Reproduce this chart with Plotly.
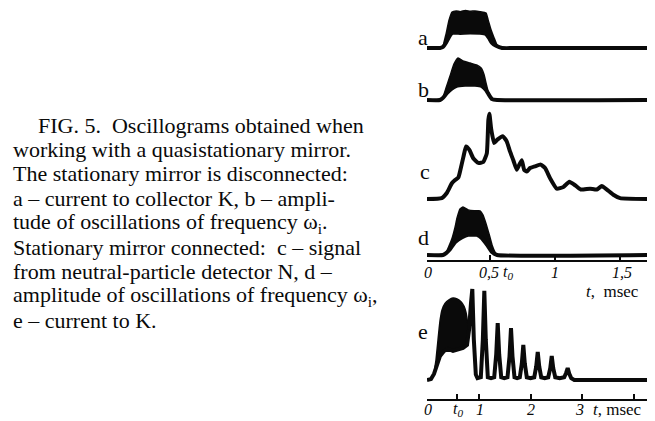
import plotly.graph_objects as go

# ---------------- data (time in msec, amplitude in relative units) ----------------
# a - current to collector K (stationary mirror disconnected)
a_t_line = [0.015, 0.115, 0.138, 0.16, 0.185, 0.208, 0.27, 0.346, 0.423, 0.469, 0.492, 0.515, 0.546, 0.592, 0.73, 1.715]
a_line = [0, 0, 0.03, 0.14, 0.31, 0.42, 0.42, 0.43, 0.42, 0.39, 0.28, 0.14, 0.06, 0, 0, 0]
a_t_env = [0.138, 0.16, 0.185, 0.208, 0.24, 0.27, 0.31, 0.346, 0.385, 0.423, 0.469, 0.485, 0.508, 0.531, 0.554, 0.592]
a_env = [0.03, 0.36, 0.78, 1.0, 1.03, 1.01, 1.04, 1.02, 1.03, 1.01, 0.97, 0.78, 0.5, 0.28, 0.08, 0]

# b - amplitude of oscillations of frequency w_i
b_t_line = [0.015, 0.115, 0.138, 0.169, 0.2, 0.238, 0.308, 0.385, 0.438, 0.469, 0.492, 0.515, 0.554, 1.715]
b_line = [0, 0, 0.05, 0.17, 0.26, 0.33, 0.36, 0.36, 0.33, 0.24, 0.12, 0.02, 0, 0]
b_t_env = [0.138, 0.162, 0.192, 0.223, 0.254, 0.292, 0.346, 0.4, 0.431, 0.454, 0.469, 0.485, 0.508, 0.531]
b_env = [0.05, 0.29, 0.57, 0.86, 1.0, 0.93, 0.88, 0.83, 0.76, 0.6, 0.4, 0.21, 0.07, 0]

# c - signal from neutral-particle detector N
c_t = [0.015, 0.128, 0.167, 0.205, 0.231, 0.256, 0.269, 0.295, 0.315, 0.341, 0.372, 0.41, 0.448, 0.475,
       0.487, 0.495, 0.508, 0.531, 0.556, 0.598, 0.628, 0.654, 0.679, 0.705, 0.725, 0.744, 0.762, 0.782,
       0.808, 0.846, 0.89, 0.923, 0.962, 1.013, 1.064, 1.11, 1.154, 1.198, 1.269, 1.321, 1.359, 1.398,
       1.448, 1.5, 1.73]
c_val = [0, 0.01, 0.07, 0.18, 0.22, 0.25, 0.32, 0.49, 0.61, 0.57, 0.47, 0.42, 0.43, 0.53,
         0.92, 0.99, 0.82, 0.65, 0.69, 0.73, 0.67, 0.55, 0.45, 0.34, 0.4, 0.45, 0.34, 0.32,
         0.36, 0.38, 0.4, 0.36, 0.24, 0.12, 0.14, 0.2, 0.16, 0.11, 0.12, 0.11, 0.15, 0.11,
         0.05, 0.01, 0]

# d - amplitude of oscillations of frequency w_i (stationary mirror connected)
d_t_line = [0.015, 0.138, 0.162, 0.192, 0.231, 0.285, 0.331, 0.4, 0.438, 0.477, 0.515, 0.554, 1.73]
d_line = [0, 0, 0.04, 0.12, 0.27, 0.37, 0.42, 0.42, 0.35, 0.21, 0.06, 0, 0]
d_t_env = [0.162, 0.185, 0.208, 0.231, 0.246, 0.269, 0.292, 0.331, 0.377, 0.423, 0.446, 0.469, 0.492, 0.515, 0.538, 0.554]
d_env = [0.04, 0.19, 0.35, 0.58, 0.77, 0.96, 1.0, 0.94, 0.92, 0.92, 0.83, 0.65, 0.44, 0.21, 0.06, 0]

# e - current to K
e_t_line = [-0.01, 0.068, 0.126, 0.184, 0.243, 0.32, 0.398, 0.495, 0.592, 0.689, 0.767, 0.806, 0.845, 0.87,
            0.899, 0.938, 0.97,
            1.035, 1.074, 1.103, 1.132, 1.171, 1.233,
            1.295, 1.334, 1.363, 1.392, 1.431, 1.49,
            1.553, 1.592, 1.621, 1.65, 1.689, 1.74,
            1.792, 1.831, 1.86, 1.889, 1.928, 2.0,
            2.072, 2.111, 2.14, 2.169, 2.208, 2.276,
            2.344, 2.383, 2.412, 2.441, 2.48, 2.567,
            2.654, 2.693, 2.722, 2.751, 2.79, 2.85, 4.32]
e_line = [0, 0.01, 0.066, 0.176, 0.264, 0.319, 0.341, 0.319, 0.33, 0.352, 0.385, 0.55, 0.85, 1.0,
          0.45, 0.06, 0.02,
          0.03, 0.44, 0.98, 0.44, 0.03, 0.02,
          0.03, 0.28, 0.626, 0.28, 0.03, 0.02,
          0.03, 0.26, 0.571, 0.26, 0.03, 0.02,
          0.03, 0.18, 0.385, 0.18, 0.03, 0.02,
          0.03, 0.15, 0.308, 0.15, 0.03, 0.02,
          0.03, 0.13, 0.264, 0.13, 0.03, 0.02,
          0.03, 0.08, 0.132, 0.07, 0.02, 0, 0]
e_t_env = [0.126, 0.165, 0.204, 0.243, 0.282, 0.34, 0.417, 0.495, 0.573, 0.65, 0.709, 0.748, 0.786, 0.806]
e_env = [0.066, 0.22, 0.44, 0.65, 0.77, 0.84, 0.88, 0.9, 0.89, 0.86, 0.81, 0.74, 0.6, 0.5]

upper_ticks = [0.5, 1.0, 1.5]
upper_labels = [(0.02, "0"), (0.49, "0,5"), (0.64, "t<sub>0</sub>"), (1.0, "1"), (1.515, "1,5")]
t0_lower = 0.57
lower_ticks = [t0_lower, 1, 2, 3, 4]
lower_labels = [(0.0, "0"), (0.6, "t<sub>0</sub>"), (1.02, "1"), (2.0, "2"), (2.95, "3")]

caption = [
    (36, "FIG. 5.  Oscillograms obtained when"),
    (11, "working with a quasistationary mirror."),
    (11, "The stationary mirror is disconnected:"),
    (11, "a – current to collector K, b – ampli-"),
    (11, "tude of oscillations of frequency ω<sub>i</sub>."),
    (11, "Stationary mirror connected:  c – signal"),
    (11, "from neutral-particle detector N, d –"),
    (11, "amplitude of oscillations of frequency ω<sub>i</sub>,"),
    (11, "e – current to K."),
]

# ---------------- figure ----------------
OFF = 8                      # page body margin of the html page
W, H = 655 - OFF, 421 - OFF
INK = "#0a0a0a"
SERIF = "Liberation Serif"


def P(x):
    return (x - OFF) / W


def Q(y):
    return 1 - (y - OFF) / H


def yrange(yb, yp, ptop, pbot):
    s = yb - yp
    return [-(pbot - yb) / s, (yb - ptop) / s]


fig = go.Figure()

panels = [
    # name, xaxis, yaxis, baseline px, unit px, domain top, domain bottom
    ("a", "x", "y", 48, 12, 8, 56),
    ("b", "x", "y2", 100, 58, 56, 108),
    ("c", "x", "y3", 199, 113, 108, 206),
    ("d", "x", "y4", 255, 207, 206, 259),
    ("e", "x2", "y5", 380, 289, 280, 392),
]

series = {
    "a": (a_t_line, a_line, a_t_env, a_env, a_t_line, a_line, "spline"),
    "b": (b_t_line, b_line, b_t_env, b_env, b_t_line, b_line, "spline"),
    "c": (c_t, c_val, None, None, None, None, "spline"),
    "d": (d_t_line, d_line, d_t_env, d_env, d_t_line, d_line, "spline"),
    "e": (e_t_line, e_line, e_t_env, e_env, e_t_line[2:12], e_line[2:12], "linear"),
}

for name, xa, ya, yb, yp, ptop, pbot in panels:
    tl, vl, te, ve, tlow, vlow, shape = series[name]
    if te is not None:
        lo_t = [t for t in tlow if te[0] <= t <= te[-1]]
        lo_v = [v for t, v in zip(tlow, vlow) if te[0] <= t <= te[-1]]
        px = list(te) + lo_t[::-1]
        py = list(ve) + lo_v[::-1]
        fig.add_trace(go.Scatter(x=px, y=py, xaxis=xa, yaxis=ya, mode="lines",
                                 fill="toself", fillcolor=INK,
                                 line=dict(color=INK, width=1.5, shape="spline", smoothing=0.4),
                                 hoverinfo="skip", showlegend=False))
    line = dict(color=INK, width=4, shape=shape)
    if shape == "spline":
        line["smoothing"] = 0.4
    fig.add_trace(go.Scatter(x=tl, y=vl, xaxis=xa, yaxis=ya, mode="lines",
                             line=line, showlegend=False, name=name))

layout = dict(
    width=W, height=H,
    margin=dict(l=0, r=0, t=0, b=0),
    paper_bgcolor="white", plot_bgcolor="white",
    showlegend=False,
)

xdom = [P(427), P(650)]
common_x = dict(domain=xdom, anchor="free", showline=True, linecolor=INK, linewidth=2,
                ticks="inside", ticklen=5, tickwidth=1.5, tickcolor=INK,
                showticklabels=False, showgrid=False, zeroline=False, fixedrange=True)
layout["xaxis"] = dict(common_x, range=[0.015, 1.73], tickvals=upper_ticks, position=Q(261))
layout["xaxis2"] = dict(common_x, range=[-0.01, 4.32], tickvals=lower_ticks, position=Q(400))

for name, xa, ya, yb, yp, ptop, pbot in panels:
    key = "yaxis" if ya == "y" else "yaxis" + ya[1:]
    layout[key] = dict(domain=[Q(pbot), Q(ptop)], range=yrange(yb, yp, ptop, pbot), anchor=xa,
                       visible=False, fixedrange=True)

fig.update_layout(**layout)

ann = []
letters = [("a", 423, 38), ("b", 423, 90), ("c", 425, 172), ("d", 423, 237), ("e", 423, 331)]
for txt, x, y in letters:
    ann.append(dict(x=P(x), y=Q(y), xref="paper", yref="paper", text=txt, showarrow=False,
                    xanchor="center", yanchor="middle", font=dict(family=SERIF, size=22, color=INK)))

for t, txt in upper_labels:
    ann.append(dict(x=t, y=Q(272), xref="x", yref="paper", text="<i>" + txt + "</i>",
                    showarrow=False, xanchor="center", yanchor="middle",
                    font=dict(family=SERIF, size=16, color=INK)))
ann.append(dict(x=P(584), y=Q(291), xref="paper", yref="paper",
                text="<i>t</i>,  msec", showarrow=False, xanchor="left", yanchor="middle",
                font=dict(family=SERIF, size=17, color=INK)))

for t, txt in lower_labels:
    ann.append(dict(x=t, y=Q(409), xref="x2", yref="paper", text="<i>" + txt + "</i>",
                    showarrow=False, xanchor="center", yanchor="middle",
                    font=dict(family=SERIF, size=16, color=INK)))
ann.append(dict(x=P(591), y=Q(409), xref="paper", yref="paper",
                text="<i>t</i>, msec", showarrow=False, xanchor="left", yanchor="middle",
                font=dict(family=SERIF, size=17, color=INK)))

y0, dy = 125, 24.4
for i, (x, txt) in enumerate(caption):
    ann.append(dict(x=P(x), y=Q(y0 + i * dy), xref="paper", yref="paper", text=txt,
                    showarrow=False, xanchor="left", yanchor="middle",
                    font=dict(family=SERIF, size=22, color=INK)))

fig.update_layout(annotations=ann)
fig.write_html("out.html")
